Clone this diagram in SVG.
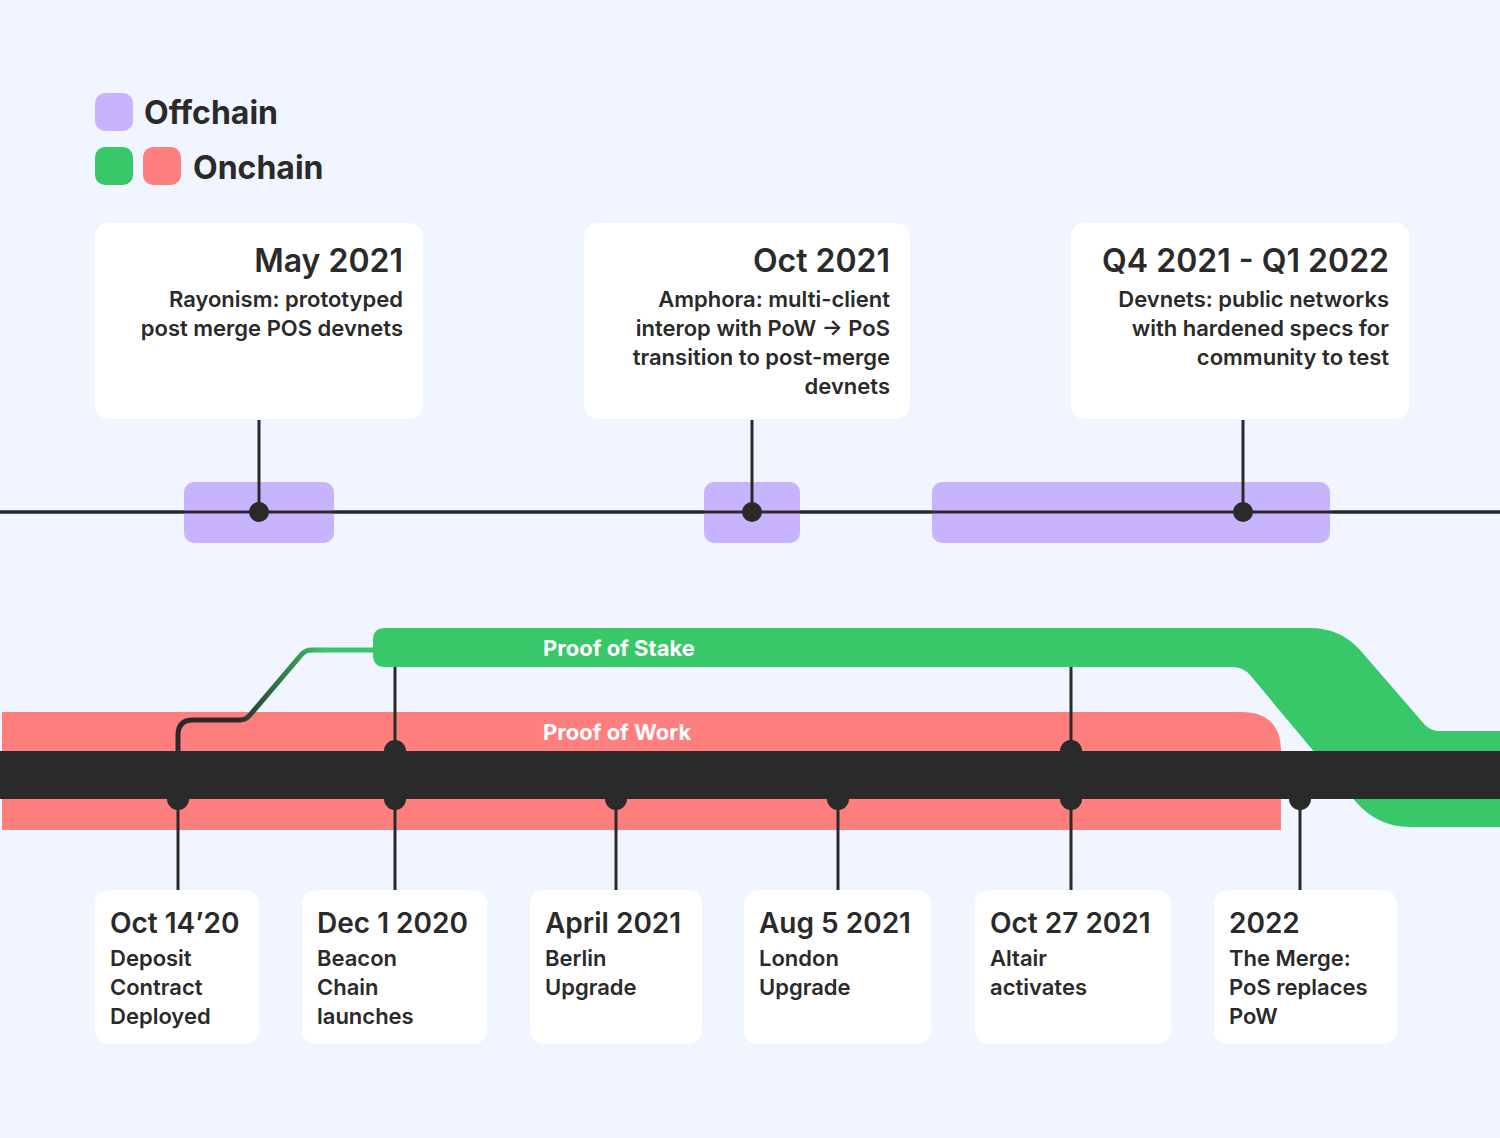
<svg xmlns="http://www.w3.org/2000/svg" width="1500" height="1138" viewBox="0 0 1500 1138">
<defs>
<linearGradient id="g" x1="178" y1="0" x2="373" y2="0" gradientUnits="userSpaceOnUse"><stop offset="0.3" stop-color="#2a2a2a"/><stop offset="0.75" stop-color="#38c86a"/></linearGradient>
<style>
text{font-family:Inter,"Noto Sans",sans-serif;font-weight:600;fill:#2a2a2a}
.t{font-size:32px}.b{font-size:22px}.bt{font-size:28px}
.r{text-anchor:end}
.box{fill:#fff}
.pur{fill:#c8b3ff}
.ln{stroke:#2a2a2a;stroke-width:3;fill:none}
.dot{fill:#2a2a2a}
.w{fill:#fff;font-size:22px;font-weight:700}
</style>
</defs>
<rect width="1500" height="1138" fill="#f1f5ff"/>
<g id="legend">
<rect x="95" y="93" width="38" height="38" rx="10" class="pur"/>
<text x="144" y="124" class="t" style="font-weight:700">Offchain</text>
<rect x="95" y="147" width="38" height="38" rx="10" fill="#38c86a"/>
<rect x="143" y="147" width="38" height="38" rx="10" fill="#ff7f7f"/>
<text x="193" y="179" class="t" style="font-weight:700">Onchain</text>
</g>
<g id="tracks">
<path d="M2,712 H1241 Q1281,712 1281,752 V830 H2 Z" fill="#ff7f7f"/>
<path d="M385,628 H1310 Q1340,628 1360,650 L1425,725 Q1431,731 1440,731 H1500 V827 H1410 Q1378,827 1356,802 L1250,675 Q1243,667 1232,667 H385 Q373,667 373,655 V640 Q373,628 385,628 Z" fill="#38c86a"/>
<rect x="0" y="751" width="1500" height="48" fill="#2a2a2a"/>
<text x="543" y="656" class="w">Proof of Stake</text>
<text x="543" y="740" class="w">Proof of Work</text>
<line x1="0" y1="512" x2="1500" y2="512" class="ln"/>
<rect x="184" y="482" width="150" height="61" rx="10" class="pur"/>
<rect x="704" y="482" width="96" height="61" rx="10" class="pur"/>
<rect x="932" y="482" width="398" height="61" rx="10" class="pur"/>
<line x1="0" y1="512" x2="1500" y2="512" class="ln"/>
</g>
<g id="connectors">
<path d="M178,800 V735 Q178,720 193,720 H240 Q246,720 250,715 L302,654 Q306,650 312,650 H375" fill="none" stroke="url(#g)" stroke-width="5"/>
<line x1="259" y1="420" x2="259" y2="512" class="ln"/>
<line x1="752" y1="420" x2="752" y2="512" class="ln"/>
<line x1="1243" y1="420" x2="1243" y2="512" class="ln"/>
<circle cx="259" cy="512" r="10" class="dot"/>
<circle cx="752" cy="512" r="10" class="dot"/>
<circle cx="1243" cy="512" r="10" class="dot"/>
<line x1="178" y1="799" x2="178" y2="890" class="ln"/>
<line x1="395" y1="667" x2="395" y2="890" class="ln"/>
<line x1="616" y1="799" x2="616" y2="890" class="ln"/>
<line x1="838" y1="799" x2="838" y2="890" class="ln"/>
<line x1="1071" y1="667" x2="1071" y2="890" class="ln"/>
<line x1="1300" y1="799" x2="1300" y2="890" class="ln"/>
<circle cx="178" cy="799" r="11" class="dot"/>
<circle cx="395" cy="751" r="11" class="dot"/><circle cx="395" cy="799" r="11" class="dot"/>
<circle cx="616" cy="799" r="11" class="dot"/>
<circle cx="838" cy="799" r="11" class="dot"/>
<circle cx="1071" cy="751" r="11" class="dot"/><circle cx="1071" cy="799" r="11" class="dot"/>
<circle cx="1300" cy="799" r="11" class="dot"/>
</g>
<g id="may2021"><rect x="95" y="223" width="328" height="196" rx="14" class="box"/>
<text x="403" y="272" class="t r">May 2021</text>
<text x="403" y="307" class="b r">Rayonism: prototyped</text><text x="403" y="336" class="b r">post merge POS devnets</text></g>
<g id="oct2021"><rect x="584" y="223" width="326" height="196" rx="14" class="box"/>
<text x="890" y="272" class="t r">Oct 2021</text>
<text x="890" y="307" class="b r">Amphora: multi-client</text><text x="890" y="336" class="b r">interop with PoW → PoS</text><text x="890" y="365" class="b r">transition to post-merge</text><text x="890" y="394" class="b r">devnets</text></g>
<g id="q4"><rect x="1071" y="223" width="338" height="196" rx="14" class="box"/>
<text x="1389" y="272" class="t r">Q4 2021 - Q1 2022</text>
<text x="1389" y="307" class="b r">Devnets: public networks</text><text x="1389" y="336" class="b r">with hardened specs for</text><text x="1389" y="365" class="b r">community to test</text></g>
<g id="oct14"><rect x="95" y="890" width="164" height="154" rx="14" class="box"/>
<text x="110" y="933" class="bt">Oct 14’20</text><text x="110" y="966" class="b">Deposit</text><text x="110" y="995" class="b">Contract</text><text x="110" y="1024" class="b">Deployed</text></g>
<g id="dec1"><rect x="302" y="890" width="185" height="154" rx="14" class="box"/>
<text x="317" y="933" class="bt">Dec 1 2020</text><text x="317" y="966" class="b">Beacon</text><text x="317" y="995" class="b">Chain</text><text x="317" y="1024" class="b">launches</text></g>
<g id="apr"><rect x="530" y="890" width="172" height="154" rx="14" class="box"/>
<text x="545" y="933" class="bt">April 2021</text><text x="545" y="966" class="b">Berlin</text><text x="545" y="995" class="b">Upgrade</text></g>
<g id="aug"><rect x="744" y="890" width="187" height="154" rx="14" class="box"/>
<text x="759" y="933" class="bt">Aug 5 2021</text><text x="759" y="966" class="b">London</text><text x="759" y="995" class="b">Upgrade</text></g>
<g id="oct27"><rect x="975" y="890" width="196" height="154" rx="14" class="box"/>
<text x="990" y="933" class="bt">Oct 27 2021</text><text x="990" y="966" class="b">Altair</text><text x="990" y="995" class="b">activates</text></g>
<g id="merge"><rect x="1214" y="890" width="183" height="154" rx="14" class="box"/>
<text x="1229" y="933" class="bt">2022</text><text x="1229" y="966" class="b">The Merge:</text><text x="1229" y="995" class="b">PoS replaces</text><text x="1229" y="1024" class="b">PoW</text></g>
</svg>
